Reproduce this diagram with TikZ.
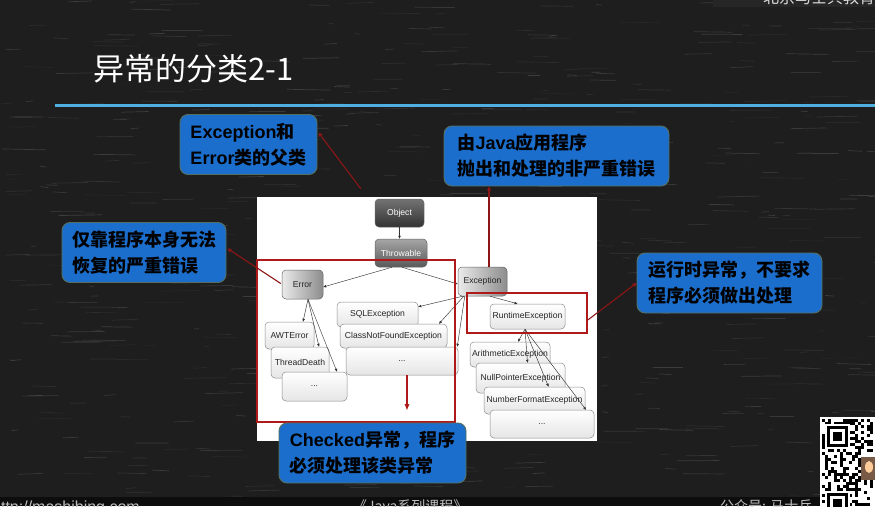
\documentclass[tikz,border=0pt]{standalone}
\usepackage{fontspec}
\setmainfont{Liberation Sans}
\newfontfamily\cjk{Noto Sans CJK SC}
\usetikzlibrary{arrows.meta,calc}

\definecolor{board}{HTML}{1E1E1E}
\definecolor{callblue}{RGB}{28,110,205}
\definecolor{callrim}{RGB}{85,110,95}
\definecolor{alertred}{RGB}{175,25,25}
\definecolor{linkred}{RGB}{140,22,22}
\definecolor{rulecyan}{RGB}{80,175,225}
\definecolor{photo}{RGB}{120,90,70}

\tikzset{
  classbox/.style={draw=black!60, rounded corners=4pt, inner sep=0pt, line width=0.5pt,
    font=\fontsize{8.6}{10}\selectfont},
  objfill/.style={top color=black!55, bottom color=black!80, text=white},
  thrfill/.style={top color=black!35, bottom color=black!65, text=white},
  absfill/.style={left color=black!8, right color=black!45, text=black!85},
  leaffill/.style={top color=white, bottom color=black!10, draw=black!45, text=black!85},
  conn/.style={draw=black!80, line width=0.45pt, -{Triangle[length=3pt,width=2.4pt]}},
  redbox/.style={draw=alertred, line width=1.6pt, inner sep=0pt},
  redarrow/.style={draw=alertred, line width=1.2pt, -{Triangle[length=6pt,width=4.5pt]}},
  callout/.style={draw=callrim, line width=0.9pt, fill=callblue, rounded corners=8pt,
    inner xsep=0pt, inner ysep=0pt, minimum height=60, align=left, text=black,
    font=\fontsize{18}{26}\selectfont\bfseries},
  calllink/.style={draw=linkred, line width=1.1pt, {Triangle[length=4pt,width=4pt]}-},
  footnote/.style={text=black!25, inner sep=0pt, font=\fontsize{14}{14}\selectfont}
}

\begin{document}
\begin{tikzpicture}[x=1pt,y=-1pt]
\useasboundingbox (0,0) rectangle (875,506);
\clip (0,0) rectangle (875,506);

% chalkboard
\fill[board] (0,0) rectangle (875,506);
\pgfmathsetseed{20}
\foreach \i in {1,...,600}{
  \pgfmathsetmacro\xx{rnd*875}
  \pgfmathsetmacro\yy{rnd*506}
  \pgfmathsetmacro\ll{4+rnd*40}
  \pgfmathsetmacro\oo{0.03+rnd*0.11}
  \pgfmathsetmacro\dy{rnd*2-1}
  \draw[white, opacity=\oo, line width=0.7pt] (\xx,\yy) -- ++(\ll,\dy);
}

% brand strip at the top right
\fill[black!85] (713,0) rectangle (875,7);
\node[anchor=base west, text=black!15, inner sep=0pt, font=\cjk\fontsize{16}{16}\selectfont] (brand) at (763,4) {北京马士兵教育};

% title and rule
\node[anchor=west, text=white, inner sep=0pt, font=\cjk\fontsize{31}{31}\selectfont] (title) at (93,68.5) {异常的分类2-1};
\draw[rulecyan, line width=3pt] (55,105.5) -- (875,105.5);

% diagram panel
\fill[white] (257,197) rectangle (597,441);

% class hierarchy
\node[classbox, objfill, minimum width=49, minimum height=28] (obj) at (399.5,213) {Object};
\node[classbox, thrfill, minimum width=52, minimum height=28] (thr) at (401,253) {Throwable};
\node[classbox, absfill, minimum width=41, minimum height=29] (err) at (302.5,284.5) {Error};
\node[classbox, absfill, minimum width=49, minimum height=29] (exc) at (482.5,281.5) {Exception};

\node[classbox, leaffill, minimum width=81, minimum height=25] (sql) at (377.5,314.5) {SQLException};
\node[classbox, leaffill, minimum width=107, minimum height=24] (cnf) at (393.5,336) {ClassNotFoundException};
\node[classbox, leaffill, minimum width=112, minimum height=28] (dots2) at (402,361) {...};

\node[classbox, leaffill, minimum width=49, minimum height=27] (awt) at (289.5,335.5) {AWTError};
\node[classbox, leaffill, minimum width=58, minimum height=31] (thd) at (300,362.5) {ThreadDeath};
\node[classbox, leaffill, minimum width=65, minimum height=29] (dots1) at (314.5,386.5) {...};

\node[classbox, leaffill, minimum width=75, minimum height=25] (rte) at (527.5,316.5) {RuntimeException};
\node[classbox, leaffill, minimum width=80, minimum height=25] (ari) at (510,354.5) {ArithmeticException};
\node[classbox, leaffill, minimum width=89, minimum height=30] (nul) at (520.5,378) {NullPointerException};
\node[classbox, leaffill, minimum width=101, minimum height=27] (numf) at (534.5,400.5) {NumberFormatException};
\node[classbox, leaffill, minimum width=104, minimum height=28] (dots3) at (542,424) {...};

% inheritance arrows
\draw[conn] (obj.south) -- (obj.south |- thr.north);
\draw[conn] ($(thr.south)+(-9,0)$) -- ($(err.east)+(0,2.5)$);
\draw[conn] ($(thr.south)+(1,0)$) -- ($(exc.west)+(0,2.5)$);
\draw[conn] ($(err.south)+(5.5,0)$) -- ($(awt.north)+(13.5,0)$);
\draw[conn] ($(err.south)+(5.5,0)$) -- ($(thd.north)+(19,0)$);
\draw[conn] ($(err.south)+(5.5,0)$) -- ($(dots1.north)+(22.5,0)$);
\draw[conn] ($(exc.south west)+(5,0)$) -- ($(sql.north east)+(0,5)$);
\draw[conn] ($(exc.south west)+(6,0)$) -- ($(cnf.north)+(45.5,0)$);
\draw[conn] ($(exc.south west)+(7,0)$) -- ($(dots2.north east)+(-1,0)$);
\draw[conn] ($(exc.south)+(7.5,0)$) -- ($(rte.north)+(-10,0)$);
\draw[conn] ($(rte.south)+(-2.5,0)$) -- ($(ari.north)+(8,0)$);
\draw[conn] ($(rte.south)+(-2.5,0)$) -- ($(nul.north)+(7,0)$);
\draw[conn] ($(rte.south)+(-2.5,0)$) -- ($(numf.north)+(14,0)$);
\draw[conn] ($(rte.south)+(-2.5,0)$) -- ($(dots3.north)+(44,0)$);

% highlighted groups
\node[redbox, minimum width=198, minimum height=162] (chkbox) at (356,341) {};
\node[redbox, minimum width=120, minimum height=40] (rtbox) at (527,313) {};
\coordinate (chkend) at (407,410);
\draw[redarrow] ($(dots2.south)+(5,0)$) -- (chkend);

% callouts
\node[callout, minimum width=137] (c1) at (248.5,144.5) {Exception{\cjk 和}\\Error{\cjk 类的父类}};
\coordinate (c1end) at (361,189);
\draw[calllink] ($(c1.east)+(1,-12)$) -- (c1end);

\node[callout, minimum width=164] (c2) at (144,252.5) {{\cjk 仅靠程序本身无法}\\{\cjk 恢复的严重错误}};
\draw[calllink] ($(c2.east)+(1,-4)$) -- ($(err.west)+(-1,-1)$);

\node[callout, minimum width=225] (c3) at (556.5,156) {{\cjk 由}Java{\cjk 应用程序}\\{\cjk 抛出和处理的非严重错误}};
\coordinate (c3foot) at ($(exc.north)+(6.5,0)$);
\draw[calllink] (c3foot |- c3.south) -- (c3foot);

\node[callout, minimum width=185] (c4) at (729.5,283) {{\cjk 运行时异常，不要求}\\{\cjk 程序必须做出处理}};
\draw[calllink] (c4.west) -- ($(rtbox.east)+(0,7)$);

\node[callout, minimum width=187] (c5) at (372.5,453) {Checked{\cjk 异常，程序}\\{\cjk 必须处理该类异常}};

% footer strip
\fill[black!95] (0,497) rectangle (875,506);
\node[footnote, anchor=base east, font=\fontsize{16}{16}\selectfont] (url) at (140,512) {http://mashibing.com};
\node[footnote, anchor=base west, font=\cjk\fontsize{14}{14}\selectfont] (series) at (353,511) {《Java系列课程》};
\node[footnote, anchor=base west, font=\cjk\fontsize{14}{14}\selectfont] (wechat) at (720,511) {公众号: 马士兵};

% QR code
\fill[white] (820,417) rectangle (875,506);
\pgfmathsetseed{7}
\foreach \cx in {0,...,16}{
  \foreach \cy in {0,...,28}{
    \pgfmathtruncatemacro\bit{rnd+0.45}
    \ifnum\bit=1 \fill[black] (822+3*\cx,419+3*\cy) rectangle ++(3,3); \fi
  }
}
\fill[white] (825,424) rectangle (850,449);
\fill[black] (827,426) rectangle (848,447);
\fill[white] (830,429) rectangle (845,444);
\fill[black] (833,432) rectangle (842,441);
\fill[white] (825,491) rectangle (850,506);
\fill[black] (827,493) rectangle (848,514);
\fill[white] (830,496) rectangle (845,511);
\fill[black] (833,499) rectangle (842,508);
\fill[photo] (861,457) rectangle (875,480);
\fill[orange!40!white] (869,467) ellipse (4 and 6);
\end{tikzpicture}
\end{document}
